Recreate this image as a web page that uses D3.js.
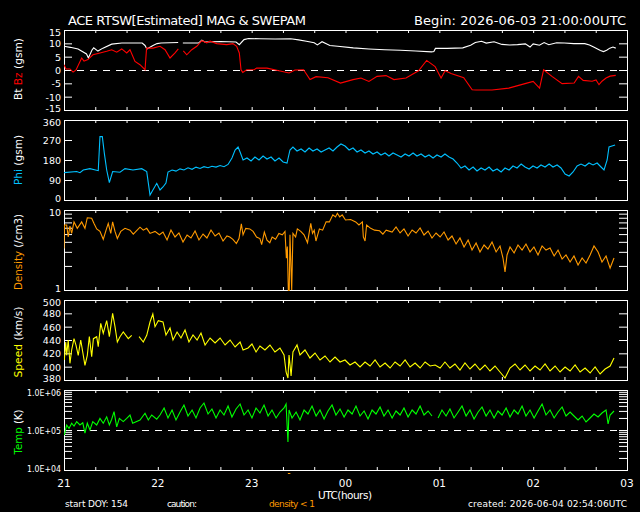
<!DOCTYPE html>
<html>
<head>
<meta charset="utf-8">
<script src="https://cdn.jsdelivr.net/npm/d3@7"></script>
<style>
  body { margin: 0; background: #000; }
  svg { display: block; }
  text { font-family: "DejaVu Sans", sans-serif; fill: #fff; }
</style>
</head>
<body>
<div id="chart"></div>
<script>

// ---- data (times in minutes after 21:00 UTC) ----
const bzT = [0,1.3,3.8,5.8,7.7,11.3,12.8,15.3,18.5,23,27.3,30.5,33.7,36.9,40.1,42.2,45.4,48.6,51.8,52.8,56.9,61.4,64.6,67.8,71,73.1,75,76.3,78.5,81.7,84.9,88.1,91.3,93.4,97.7,104,108,110.4,112.1,113.2,114.3,116.8,121.5,123.2,129.8,137.5,143.9,147.7,153.2,157.3,161.2,168.8,176.8,184.8,189.9,195,200.2,205.9,211,218.7,226.7,231.9,237.3,241.1,243.7,247.5,255.6,261,263.5,273.7,284.4,294.8,300,304.1,306.7,312,318.5,326.2,329,332,337.7,340.2,342.1,344,346.6,349.2,352.8];
const bzV = [2,0.4,0.4,-0.8,0,4.5,3.3,3.9,5.7,6.4,7,7.6,6.7,7.9,6.4,7.6,3.2,2,0.1,8.2,8.2,8.9,7.6,4.5,6.4,7.9,null,7.2,5.7,7.6,8.9,11,10.2,10.8,9.9,9.5,9.9,8.9,6.4,0.1,-0.9,0.1,0.1,0.7,0.7,-0.3,-1.1,0,0.1,-3.6,-2.5,-2.9,-4.9,-3.6,-3,-4.3,-2.4,-2.1,-3.6,-3,-0.3,3.6,1.3,-3,-0.3,-1.3,-2.9,-7.4,-9.3,-8,-6.8,-5.1,-4.3,-6.8,0.1,-2.4,-5.1,-4.9,-2.4,-3.9,-4.2,-3.7,-5.5,-4.2,-3,-2.3,-2];

const btT = [0,4,9,14.4,15.6,17.9,19,21.7,24.9,30.5,37,50,51.8,53,56.9,59.5,62,73,75,76,86,88.1,90,100,110,112.1,115.1,118,125,135,145,150,155,160,162,165,170,175,185,195,205,215,225,235,236.5,237.5,245,255,260,263,267,270,275,280,285,290,295,298,300,304,307,310,315,320,326,333,336,339,343,345,347,349,351,352.8];
const btV = [8.9,8.5,7.9,6,4.5,7.5,8.3,7.1,8.2,9.7,10.1,10.1,9.2,7.9,9.2,9.9,10.1,10.3,null,10.1,10.1,11.2,10.5,10.7,10.5,9.5,11.4,11.8,11.7,11.6,11.7,11.3,10.8,10.2,9.4,10.6,9.2,8.9,8.3,7.9,7.6,7.4,7.1,6.8,6.9,8.1,8.1,8.3,9.3,10.3,10.8,10.1,10.6,9.6,9.4,9.5,9.8,8.6,9.8,9.3,10.3,9.5,10.2,10.1,9.9,9.9,9.4,8.5,7.3,6.9,7.4,8.2,8.6,8.2];

const phiT = [0,8.1,10.2,12.3,16.6,21.9,23,24.5,25.8,27.3,29,31.1,35.8,39,44.1,49.7,52.9,55,59.3,61.4,63.3,65.2,66.5,69.1,71.6,74.2,76.7,79.3,81.9,84.4,87,89.5,92.1,94.6,97.2,99.8,102.3,104.9,107.4,109.4,111.3,112.6,114.5,117,119.6,122.1,124.7,127.3,129.8,132.4,134.9,137.5,140.1,142.6,144.5,146.4,149,151.6,154.1,156.7,159.2,161.8,164.4,166.9,169.5,172,174.6,177.1,179.7,182.3,184.8,187.4,189.9,192.5,195,197.6,200.2,202.7,205.3,207.8,210.4,213,215.5,218.1,220.6,223.2,225.7,228.3,230.9,233.4,236,238.5,241.1,243.6,246.2,248.8,251.3,253.9,256.4,259,261.6,264.1,266.7,269.2,271.8,274.3,276.9,279.5,282,284.6,287.1,289.7,292.3,294.8,297.4,299.9,302.5,305,307.6,310.2,312.7,315.3,317.8,320.4,323,325.5,328.1,330.6,333.2,335.7,338.3,340.9,343.4,345.3,347.3,348.5,350.4,352.4];
const phiV = [123,128,123,135,141,132,285,285,210,135,78,128,125,141,135,141,128,22,75,45,58.5,76.5,126,135,130,140,135,145,138,148,142,150,145,152,148,155,150,160,189,225,238.5,216,180,189,175.5,193.5,180,198,184.5,193.5,175.5,189,171,166.5,225,238.5,220.5,229.5,216,234,220.5,229.5,216,225,234,220.5,238.5,252,243,225,234,216,225,211.5,220.5,207,216,202.5,211.5,198,211.5,202.5,193.5,207,198,211.5,198,207,193.5,202.5,189,202.5,193.5,207,193.5,184.5,166.5,144,153,135,148.5,130.5,144,135,148.5,130.5,139.5,126,144,135,153,144,162,148.5,139.5,153,144,157.5,148.5,162,148.5,157.5,144,117,108,126,153,162,153,166.5,157.5,166.5,148.5,135,180,238.5,243,247.5];

const denT = [0,0.3,1.7,2.7,3.8,4.9,6.4,8.5,11.3,13.4,14.9,17.7,19.2,20.9,23,25.1,26.9,28.3,29.9,31.1,32.6,34.1,36.3,39,42.2,44.3,48.6,50.7,52.9,55,58.2,61,
  63.3,65.9,68.4,71,73.5,76.1,78.7,81.2,83.8,86.3,88.9,91.4,94,96.6,99.1,101.7,104.2,
  106,108,110.2,111.9,113.4,114.5,116.2,118.8,120.9,123.1,125.3,126.4,128.1,129.8,131.6,133.1,135.3,137.4,139.6,141.3,142.2,142.8,143.8,144.5,145.6,146.4,148.1,149.2,151.4,153.5,155.7,157.8,158.9,160,161.1,163.3,165.4,167.6,169.7,171.9,173.6,174.8,176.3,177.9,180,183.3,186.5,188.6,190.8,191.4,192.5,193.5,196.1,198.6,201.8,203.9,206,
  209.8,212.3,214.9,217.4,220,222.6,225.1,227.7,230.2,232.8,235.3,237.9,240.5,243,245.6,248.1,250.7,253.2,255.8,258.4,260.9,263.5,266,268.6,271.1,273.7,276.3,278.8,280.7,282,283.3,285.2,287.8,290.3,292.9,295.4,298,300.5,303.1,305.7,308.2,310.8,313.4,315.9,318.5,321,323.6,326.1,328.7,331.3,333.8,336.4,338.9,341.5,344,346.6,349.2,351.7];
const denV = [3.3,6.5,6.5,4.6,6.3,5.1,7.1,5.9,7.1,5.9,8.0,7.9,6.8,5.8,5.4,4.3,5.6,6.8,5.1,7.1,5.4,4.4,5.4,5.9,5.6,5.0,6.1,5.6,5.9,5.1,5.4,4.9,
  5.31,4.22,5.62,4.6,5.16,3.98,4.87,4.47,5.46,4.22,5.01,4.47,5.62,4.73,5.16,4.1,4.73,
  4.6,4.3,3.8,4.4,6.7,4.9,5.9,5.8,5.4,4.6,4.4,3.7,5.3,4.2,3.9,4.6,4.3,5.1,4.9,5.4,2.5,3.5,0.5,4.9,1.0,5.1,4.6,5.8,5.4,4.9,3.9,6.8,5.1,5.6,4.1,5.8,5.6,7.1,7.1,8.7,8.2,9.1,8.2,8.7,7.5,7.6,7.1,6.5,7.1,4.6,4.1,6.5,5.9,5.6,5.5,5.0,5.6,
  5.31,6.13,5.16,5.79,4.73,5.62,5.16,5.96,4.87,5.46,4.47,5.16,4.6,5.31,4.22,4.73,3.76,4.47,3.45,4.22,3.16,3.87,2.99,3.65,3.25,3.98,2.99,3.55,2.51,1.68,2.74,3.45,2.9,3.65,3.16,3.76,2.99,3.45,2.74,3.55,3.16,3.35,2.66,3.16,2.44,2.74,2.24,2.66,2.05,2.51,2.17,2.74,3.55,2.99,2.24,2.66,1.88,2.51];

const spdT = [0.2,1.1,1.7,2.7,3.8,4.9,6.4,7.7,9.1,10.7,13.4,14.9,16.2,17.7,18.8,20.9,21.9,23.5,25.1,27.3,29,31.1,32.6,34.1,35.8,37.9,41.1,43.3,45.3,48,50.7,52.9,55,56.8,58.2,60.3,
  63.3,65.2,67.8,69.7,72.3,74.8,77.4,79.9,82.5,85.1,87.6,90.2,93.4,96.6,99.8,103,106.2,109.4,112.6,114.5,117.7,120.2,122.8,125.3,128.5,131.7,134.9,138.1,140.7,142,143.2,143.9,145.2,146.4,149,150.9,154.1,157.3,160.5,163.7,166.9,170.1,173.3,176.5,179.7,182.9,186.1,189.3,192.5,195.7,198.9,202.1,205.3,208.5,211.7,214.9,218.1,221.3,224.5,227.7,230.9,234.1,237.3,240.5,243.6,246.8,250,253.2,256.4,259.6,262.8,266,269.2,272.4,275.6,278.8,282,285.2,288.4,291.6,294.8,298,301.2,304.4,307.6,310.8,314,317.2,320.4,323.6,326.8,330,333.2,336.4,339.6,342.8,346,349.2,351.7];
const spdV = [410,437,417,440,405,425,442,432,417,440,402,417,445,415,442,445,430,465,450,469,445,480,460,437,445,452,442,447,null,445,437,447,467,479,460,469,
  467,447.5,458,440,452,443,455,437,447.5,440,450.5,432.5,443,435.5,443,432.5,440,429.5,437,425,428,434,422,431,425,432.5,422,428,417.5,392,383,417.5,386,422,432.5,417.5,425,413,420.5,410,416,407,414.5,407,410,402.5,407,399.5,407,401,410,399.5,405.5,398,407,401,410,399.5,405.5,398,407,401,402.5,398,407,398,404,395,405.5,396.5,404,395,402.5,393.5,401,392,383,398,404,395,402.5,393.5,401,395,404,393.5,401,392,399.5,393.5,402.5,392,398,390.5,399.5,389,396.5,401,413];

// temperature given as log10(K)
const tmpT = [0.2,1.7,3.2,4.9,6.4,8.1,10.2,12,13.4,14.9,16.6,18.4,20.9,23,25.1,27.3,29,30.5,32,33.7,35.4,37.9,40.1,42.2,43.9,48.6,51.8,53.9,56.1,59.3,
  61.4,64,66.5,69.1,71.6,74.2,76.7,79.3,81.9,84.4,87,89.5,92.1,94.6,97.2,99.8,102.3,104.9,107.4,110,112.6,115.1,117.7,120.2,122.8,125.3,127.9,130.5,133,135.6,138.1,140.7,142,143.2,143.9,145.8,148.4,150.9,153.5,156,158.6,161.2,163.7,166.3,168.8,171.4,173.9,176.5,179.1,181.6,184.2,186.7,189.3,191.9,194.4,197,199.5,202.1,204.6,207.2,209.8,212.3,214.9,217.4,220,222.6,225.1,227.7,230.2,232.8,235.3,236.5,239.2,241.7,244.3,246.8,249.4,252,254.5,257.1,259.6,262.2,264.8,267.3,269.9,272.4,275,277.5,280.1,282.7,285.2,287.8,290.3,292.9,295.4,298,300.6,303.1,305.7,308.2,310.8,313.4,315.9,318.5,321,323.6,326.1,328.7,331.3,333.8,336.4,338.9,341.5,344,346.6,347.9,349.2,351.7];
const tmpLog = [4.875,5.125,5.04,5.17,5.1,5.21,5.125,5.18,4.92,5.17,5.0,5.21,5.125,5.29,5.17,5.33,5.125,5.27,5.46,5.08,5.29,5.21,5.29,5.375,5.17,5.25,5.42,5.25,5.375,5.27,
  5.375,5.55,5.3,5.5,5.25,5.45,5.625,5.35,5.5,5.3,5.55,5.675,5.4,5.525,5.3,5.5,5.375,5.6,5.325,5.525,5.65,5.375,5.5,5.3,5.55,5.425,5.625,5.35,5.5,5.3,5.45,5.55,5.65,4.7,5.5,5.3,5.45,5.25,5.5,5.4,5.6,5.35,5.5,5.275,5.475,5.625,5.375,5.525,5.325,5.5,5.4,5.6,5.35,5.475,5.275,5.5,5.4,5.575,5.35,5.5,5.3,5.475,5.375,5.55,5.325,5.5,5.4,5.6,5.375,5.475,5.35,null,5.3,5.5,5.35,5.525,5.3,5.45,5.6,5.35,5.5,5.275,5.45,5.575,5.35,5.5,5.3,5.475,5.375,5.55,5.325,5.5,5.4,5.6,5.35,5.5,5.3,5.475,5.65,5.375,5.5,5.3,5.45,5.575,5.35,5.45,5.35,5.25,5.35,5.2,5.3,5.4,5.325,5.425,5.5,5.15,5.375,5.475];

const hourLabels = ["21","22","23","00","01","02","03"];
const magTicks = [15,10,5,0,-5,-10,-15];
const phiTicks = [360,270,180,90,0];
const spdTicks = [500,480,460,440,420,400,380];

// ---- layout ----
const W = 640, H = 512;
const svg = d3.select("#chart").append("svg")
    .attr("width", W)
    .attr("height", H);

svg.append("rect").attr("width", W).attr("height", H).attr("fill", "#000");

const x = d3.scaleLinear().domain([0, 360]).range([64, 627]);
const xMinor = d3.range(0, 361, 20);

function logMinor(lo, hi) {
    let out = [];
    for (let e = Math.log10(lo); e < Math.log10(hi); e++) {
        for (let k = 2; k <= 9; k++) out.push(k * Math.pow(10, e));
    }
    return out;
}

const panels = [
    {top: 30, bottom: 110, domain: [-15, 15], ticks: magTicks, fmt: d => d, dash: 0,
     series: [{t: btT, v: btV, color: "#ffffff"}, {t: bzT, v: bzV, color: "#ff0000"}],
     title: [["Bt", "#ffffff"], [" Bz", "#ff0000"], [" (gsm)", "#ffffff"]], titleY: 69, titleLen: 62},
    {top: 120, bottom: 200, domain: [0, 360], ticks: phiTicks, fmt: d => d,
     series: [{t: phiT, v: phiV, color: "#00c0ff"}],
     title: [["Phi", "#00c0ff"], [" (gsm)", "#ffffff"]], titleY: 160, titleLen: 50},
    {top: 210, bottom: 290, domain: [1, 10], log: true, ticks: [10, 1], minor: logMinor(1, 10), fmt: d => d,
     series: [{t: denT, v: denV, color: "#ff9a00"}],
     title: [["Density", "#ff9a00"], [" (/cm3)", "#ffffff"]], titleY: 252, titleLen: 76},
    {top: 300, bottom: 380, domain: [380, 500], ticks: spdTicks, fmt: d => d,
     series: [{t: spdT, v: spdV, color: "#ffff00"}],
     title: [["Speed", "#ffff00"], [" (km/s)", "#ffffff"]], titleY: 342, titleLen: 71},
    {top: 390, bottom: 470, domain: [1e4, 1e6], log: true, ticks: [1e6, 1e5, 1e4], minor: logMinor(1e4, 1e6),
     fmt: d => "1.0E+0" + Math.round(Math.log10(d)), dash: 1e5, labelLen: 34,
     series: [{t: tmpT, v: tmpLog.map(v => v === null ? null : Math.pow(10, v)), color: "#00ff00"}],
     title: [["Temp", "#00ff00"], [" (K)", "#ffffff"]], titleY: 432, titleLen: 45}
];

panels.forEach((p, i) => {
    let y = (p.log ? d3.scaleLog() : d3.scaleLinear())
        .domain(p.domain)
        .range([p.bottom, p.top]);

    let g = svg.append("g").attr("class", "panel");

    let clipId = "clip" + i;
    g.append("clipPath").attr("id", clipId)
        .append("rect")
        .attr("x", x(0)).attr("y", p.top)
        .attr("width", x(360) - x(0)).attr("height", p.bottom - p.top + 1);

    // x ticks, inward, top and bottom
    g.append("g")
        .attr("transform", `translate(0,${p.bottom})`)
        .attr("color", "#fff")
        .call(d3.axisBottom(x).tickValues(xMinor).tickSize(-3).tickSizeOuter(0).tickFormat(""));
    g.append("g")
        .attr("transform", `translate(0,${p.top})`)
        .attr("color", "#fff")
        .call(d3.axisTop(x).tickValues(xMinor).tickSize(-3).tickSizeOuter(0).tickFormat(""));

    // y ticks, left with labels, right without
    let inner = p.log ? p.ticks.concat(p.minor) : p.ticks;
    let left = g.append("g")
        .attr("transform", `translate(${x(0)},0)`)
        .attr("color", "#fff")
        .call(d3.axisLeft(y).tickValues(inner).tickSize(-8).tickSizeOuter(0).tickPadding(3)
            .tickFormat(d => p.ticks.includes(d) ? p.fmt(d) : ""));
    left.selectAll("text")
        .style("font-size", "9.5px")
        .attr("y", d => d === p.domain[1] ? 2 : (d === p.domain[0] ? -1.5 : 0.5));
    if (p.labelLen) {
        left.selectAll("text")
            .filter(d => p.ticks.includes(d))
            .attr("textLength", p.labelLen)
            .attr("lengthAdjust", "spacingAndGlyphs");
    }
    g.append("g")
        .attr("transform", `translate(${x(360)},0)`)
        .attr("color", "#fff")
        .call(d3.axisRight(y).tickValues(inner).tickSize(-8).tickSizeOuter(0).tickFormat(""));

    // frame
    g.append("rect")
        .attr("x", x(0) + 0.5).attr("y", p.top + 0.5)
        .attr("width", x(360) - x(0)).attr("height", p.bottom - p.top)
        .attr("fill", "none").attr("stroke", "#fff").attr("stroke-width", 1);

    // dashed reference line
    if (p.dash !== undefined) {
        g.append("line")
            .attr("x1", x(0)).attr("x2", x(360))
            .attr("y1", Math.round(y(p.dash)) + 0.5).attr("y2", Math.round(y(p.dash)) + 0.5)
            .attr("stroke", "#fff").attr("stroke-dasharray", "7,6");
    }

    // data lines
    p.series.forEach(s => {
        let pts = s.t.map((t, j) => [t, s.v[j]]);
        let line = d3.line()
            .defined(d => d[1] !== null)
            .x(d => x(d[0]))
            .y(d => y(Math.max(d[1], p.domain[0] * 0.5)));
        g.append("path")
            .datum(pts)
            .attr("clip-path", `url(#${clipId})`)
            .attr("d", line)
            .attr("fill", "none")
            .attr("stroke", s.color)
            .attr("stroke-width", 1.1);
    });

    // rotated axis title
    let tt = g.append("text")
        .attr("transform", `translate(18,${p.titleY}) rotate(-90)`)
        .attr("text-anchor", "middle")
        .attr("dominant-baseline", "central")
        .attr("textLength", p.titleLen)
        .attr("lengthAdjust", "spacingAndGlyphs")
        .style("font-size", "11px");
    p.title.forEach(part => {
        tt.append("tspan").text(part[0]).style("fill", part[1]);
    });
});

// density < 1 markers under the axis
denT.forEach((t, j) => {
    if (denV[j] !== null && denV[j] < 1) {
        svg.append("line")
            .attr("x1", x(t) - 1).attr("x2", x(t) + 1.5)
            .attr("y1", 473.5).attr("y2", 473.5)
            .attr("stroke", "#ff9a00");
    }
});

// hour labels
svg.selectAll(".hour")
    .data(hourLabels)
    .enter().append("text")
    .attr("class", "hour")
    .attr("x", (d, i) => x(i * 60))
    .attr("y", 487)
    .attr("text-anchor", "middle")
    .style("font-size", "10.5px")
    .text(d => d);

svg.append("text")
    .attr("x", 345).attr("y", 499)
    .attr("text-anchor", "middle")
    .attr("textLength", 54)
    .style("font-size", "10.5px")
    .text("UTC(hours)");

// titles
svg.append("text")
    .attr("x", 68).attr("y", 25)
    .attr("textLength", 238)
    .style("font-size", "13px")
    .text("ACE RTSW[Estimated] MAG & SWEPAM");
svg.append("text")
    .attr("x", 414).attr("y", 25)
    .attr("textLength", 212)
    .style("font-size", "13px")
    .text("Begin: 2026-06-03 21:00:00UTC");

// footer
svg.append("text").attr("x", 65).attr("y", 507)
    .attr("textLength", 63).style("font-size", "9px")
    .text("start DOY: 154");
svg.append("text").attr("x", 167).attr("y", 507)
    .attr("textLength", 30).style("font-size", "9px")
    .text("caution:");
svg.append("text").attr("x", 269).attr("y", 507)
    .attr("textLength", 46).style("font-size", "9px")
    .style("fill", "#ff9a00")
    .text("density < 1");
svg.append("text").attr("x", 468).attr("y", 507)
    .attr("textLength", 159).style("font-size", "9px")
    .text("created: 2026-06-04 02:54:06UTC");

</script>
</body>
</html>
